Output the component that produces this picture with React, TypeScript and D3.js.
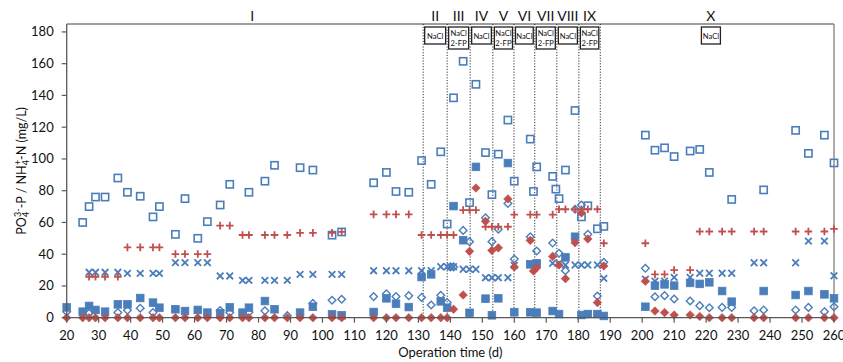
import React from 'react';
import * as d3 from 'd3';

const W = 843;
const H = 362;
const BLUE = '#4A7EBB';
const RED = '#C0504D';
const FONT = 'Lato, "Liberation Sans", sans-serif';

const xTickLabels = [20, 30, 40, 50, 60, 70, 80, 90, 100, 110, 120, 130, 140, 150, 160, 170, 180, 190, 200, 210, 220, 230, 240, 250, 260];
const yTickLabels = [0, 20, 40, 60, 80, 100, 120, 140, 160, 180];

// phase boundaries (day) and labels
const phaseBounds = [131.5, 139, 146.2, 153.3, 159.9, 166.4, 173.3, 180.2, 186.9];
const phaseNames = ['I', 'II', 'III', 'IV', 'V', 'VI', 'VII', 'VIII', 'IX', 'X'];
const phaseTreat = ['', 'NaCl', 'NaCl|2-FP', 'NaCl', 'NaCl|2-FP', 'NaCl', 'NaCl|2-FP', 'NaCl', 'NaCl|2-FP', 'NaCl'];
const phaseLabelDayI = 78;
const phaseLabelDayX = 221.5;

// [day, mg/L]
const openSquares: [number, number][] = [
  [25, 60], [27, 70], [29, 76], [32, 76], [36, 88], [39, 79], [43, 76.5], [47, 63.5], [49, 70], [54, 52.5],
  [57, 75], [61, 50], [64, 60.5], [68, 71], [71, 84], [77, 79], [82, 86], [85, 96], [93, 94.5], [97, 93],
  [103, 52], [106, 54], [116, 85], [120, 91.5], [123, 79.5], [127, 79], [131, 99], [134, 84], [137, 104.5],
  [139, 59], [141, 138.5], [144, 161.5], [146, 72.5], [148, 147], [151, 104], [153, 77.5], [155, 103],
  [158, 124.5], [160, 86], [165, 112.5], [166, 79.5], [167, 95], [172, 89], [173, 81], [174, 75], [176, 93],
  [179, 130.5], [181, 63.5], [183, 70.5], [186, 56], [188, 57.5], [201, 115], [204, 105.5], [207, 107],
  [210, 101.5], [215, 105], [218, 106], [221, 91.5], [228, 74.5], [238, 80.5], [248, 118], [252, 103.5],
  [257, 115], [260, 97.5],
];

const filledSquares: [number, number][] = [
  [20, 6.5], [25, 3.8], [27, 7.4], [29, 4.9], [32, 3.8], [36, 8.4], [39, 8.4], [43, 12.4], [47, 9.5], [49, 6.3],
  [54, 5.3], [57, 4.2], [61, 4.9], [64, 3.2], [68, 2.8], [71, 6.5], [75, 3.2], [77, 6.3], [82, 10.5], [85, 5.3],
  [93, 3.2], [97, 6.9], [103, 2.1], [106, 1.5], [116, 3.6], [120, 12.2], [123, 8.8], [127, 6.7], [131, 25.6],
  [134, 27.3], [137, 10.3], [139, 6.3], [141, 70.3], [144, 48.8], [146, 3.1], [148, 95], [151, 12], [153, 1.5],
  [155, 12.2], [158, 97.4], [160, 3.4], [165, 33.6], [165, 3.4], [167, 34.3], [167, 3.2], [172, 4.2], [174, 2.3],
  [176, 38], [179, 51], [181, 1.7], [183, 2.3], [186, 2.3], [188, 1.1], [201, 6.9], [204, 20.2], [207, 21],
  [210, 20.2], [215, 21.9], [218, 21.3], [221, 22.3], [225, 16.8], [228, 10.1], [238, 16.8], [248, 14.3],
  [252, 16.8], [257, 14.7], [260, 12.2],
];

const openDiamonds: [number, number][] = [
  [20, 3.8], [27, 2.8], [36, 3.2], [39, 4.7], [43, 6], [47, 3.2], [68, 4.5], [71, 3.3], [77, 3.4], [82, 4.3],
  [89, 1.3], [97, 9], [103, 11], [106, 11.6], [116, 13.3], [120, 15.1], [123, 13.3], [127, 13.9], [131, 12.8],
  [134, 8], [137, 14.1], [139, 9.5], [140, 32], [141, 32], [144, 55], [146, 47.9], [151, 63], [153, 47.9],
  [155, 55.7], [158, 72], [160, 37], [165, 51], [167, 42], [172, 47], [174, 40.6], [176, 29.6], [179, 68.3],
  [181, 71], [183, 52.5], [186, 13.7], [188, 34.9], [201, 31.1], [204, 13.2], [207, 13.9], [210, 11.8],
  [215, 10.5], [218, 7.6], [221, 6.3], [225, 6.5], [228, 6.5], [235, 4.4], [238, 4.9], [248, 4.9], [252, 6.5],
  [257, 3.8], [260, 6.9],
];

const crosses: [number, number][] = [
  [27, 28.6], [29, 28.6], [32, 28.6], [36, 28.6], [39, 27.9], [43, 27.9], [47, 27.9], [49, 27.9], [54, 34.7],
  [57, 34.7], [61, 34.7], [64, 34.7], [68, 26.3], [71, 26.3], [75, 23.5], [77, 23.5], [82, 23.5], [85, 23.5],
  [89, 23.5], [93, 27.3], [97, 27.3], [103, 27.3], [106, 27.3], [116, 29.6], [120, 29.6], [123, 29.6], [127, 29.6],
  [131, 29.6], [134, 29.6], [137, 32.1], [139, 32.1], [140, 32.1], [141, 32.1], [144, 30.5], [146, 30.5],
  [148, 30.5], [151, 25.2], [153, 25.2], [155, 25.2], [158, 25.2], [160, 33], [165, 33.5], [167, 33.5],
  [172, 34.3], [174, 34.3], [176, 33.2], [179, 33.2], [181, 33.2], [183, 33.2], [186, 33.2], [188, 24.8],
  [201, 24.3], [204, 23], [207, 23], [210, 25.4], [215, 25.4], [218, 28], [221, 28], [225, 28], [228, 28],
  [235, 34.6], [238, 34.6], [248, 34.6], [252, 48.2], [257, 48.2], [260, 26.4],
];

const plusses: [number, number][] = [
  [27, 25.8], [29, 25.8], [32, 25.8], [36, 25.8], [39, 44.3], [43, 44.3], [47, 44.3], [49, 44.3], [54, 40.1],
  [57, 40.1], [61, 40.1], [64, 40.1], [68, 58], [71, 58], [75, 52.1], [77, 52.1], [82, 52.1], [85, 52.1],
  [89, 52.1], [93, 53.4], [97, 53.4], [103, 53.4], [106, 54], [116, 65.1], [120, 65.1], [123, 65.1], [127, 65.1],
  [131, 52.1], [134, 52.1], [137, 52.1], [139, 52.1], [141, 52.1], [144, 67.8], [146, 67.8], [148, 67.8],
  [151, 57.3], [153, 57.3], [155, 57.3], [158, 57.3], [160, 64.9], [165, 64.9], [167, 64.9], [172, 64.9],
  [174, 68.3], [176, 68.3], [179, 68.3], [181, 68.3], [183, 68.3], [186, 68.3], [188, 46.9], [201, 46.9],
  [204, 27.3], [207, 27.3], [210, 30], [215, 30], [218, 54.3], [221, 54.3], [225, 54.3], [228, 54.3],
  [235, 54.3], [238, 54.3], [248, 54.3], [252, 54.3], [257, 54.3], [260, 55.9],
];

const redDiamonds: [number, number][] = [
  [20, 0], [25, 0], [27, 0], [29, 0], [32, 0], [36, 0], [39, 0], [43, 0], [47, 0], [49, 0], [54, 0], [57, 0],
  [61, 0], [64, 0], [68, 0], [71, 0], [75, 0], [77, 0], [82, 0], [85, 0], [89, 0], [93, 0], [97, 0], [103, 0],
  [106, 0], [116, 0], [120, 0], [123, 0], [127, 0], [131, 0], [134, 0], [137, 0], [139, 0], [141, 5.3],
  [144, 14.3], [146, 41.8], [148, 81.7], [151, 60.7], [153, 42.4], [155, 44], [158, 74.8], [160, 32],
  [165, 48.7], [166, 29.4], [167, 31.5], [172, 38.6], [174, 33.2], [176, 24.6], [179, 47.3], [181, 66],
  [183, 49.6], [186, 9.5], [188, 32.6], [201, 23], [204, 4.2], [207, 3.2], [210, 1.7], [215, 1.7], [218, 0.8],
  [221, 0], [225, 0], [228, 0], [235, 0], [238, 0], [248, 0], [252, 0], [257, 0], [260, 0],
];

const left = 66.7;
const right = 834;
const top = 24;
const bottom = 317.7;

const x = d3.scaleLinear().domain([20, 260]).range([left, right]);
const y = d3.scaleLinear().domain([0, 185]).range([bottom, top]);

const App = () => {
  const diamond = (cx: number, cy: number, r: number) =>
    `M${cx},${cy - r}L${cx + r},${cy}L${cx},${cy + r}L${cx - r},${cy}Z`;

  const treatBox = (key: string, cx: number, w: number, label: string) => {
    const lines = label.split('|');
    const h = lines.length > 1 ? 22 : 17;
    return (
      <g key={key}>
        <rect x={cx - w / 2} y={27} width={w} height={h} fill="#fff" stroke="#222" strokeWidth={1.3} />
        {lines.map((t, i) => (
          <text key={i} x={cx} y={lines.length > 1 ? 36 + i * 10 : 38.5} textAnchor="middle"
            fontSize={7.6} fontFamily={FONT} fill="#111">{t}</text>
        ))}
      </g>
    );
  };

  const phaseEdges = [20, ...phaseBounds, 260];

  return (
    <svg width={W} height={H} style={{ position: 'absolute', left: 0, top: 0, background: '#fff' }}>
      {/* frame */}
      <line x1={left} x2={right} y1={top} y2={top} stroke="#7f7f7f" strokeWidth={1.3} />
      <line x1={right} x2={right} y1={top} y2={bottom} stroke="#7f7f7f" strokeWidth={1.3} />

      {/* phase boundaries */}
      {phaseBounds.map((d, i) => (
        <line key={'pb' + i} x1={x(d)} x2={x(d)} y1={top} y2={bottom} stroke="#333"
          strokeWidth={1} strokeDasharray="1.2,1.6" />
      ))}

      {/* phase labels */}
      {phaseNames.map((n, i) => {
        let cx = (x(phaseEdges[i]) + x(phaseEdges[i + 1])) / 2;
        if (i === 0) cx = x(phaseLabelDayI);
        if (i === phaseNames.length - 1) cx = x(phaseLabelDayX);
        return (
          <text key={'pn' + i} x={cx} y={21} textAnchor="middle" fontSize={14} fontFamily={FONT} fill="#111">{n}</text>
        );
      })}

      {/* treatment boxes */}
      {phaseTreat.map((t, i) => {
        if (!t) return null;
        if (i === phaseTreat.length - 1) return treatBox('tb' + i, x(phaseLabelDayX), 19, t);
        const x0 = x(phaseEdges[i]);
        const x1 = x(phaseEdges[i + 1]);
        return treatBox('tb' + i, (x0 + x1) / 2, x1 - x0 - 3, t);
      })}

      {/* markers */}
      {openSquares.map(([d, v], i) => (
        <rect key={'os' + i} x={x(d) - 3.6} y={y(v) - 3.6} width={7.2} height={7.2} fill="none" stroke={BLUE} strokeWidth={1.6} />
      ))}
      {crosses.map(([d, v], i) => (
        <path key={'cr' + i} d={`M${x(d) - 3.3},${y(v) - 3.3}L${x(d) + 3.3},${y(v) + 3.3}M${x(d) - 3.3},${y(v) + 3.3}L${x(d) + 3.3},${y(v) - 3.3}`}
          stroke={BLUE} strokeWidth={1.8} fill="none" />
      ))}
      {openDiamonds.map(([d, v], i) => (
        <path key={'od' + i} d={diamond(x(d), y(v), 3.8)} fill="none" stroke={BLUE} strokeWidth={1.4} />
      ))}
      {filledSquares.map(([d, v], i) => (
        <rect key={'fs' + i} x={x(d) - 3.8} y={y(v) - 3.8} width={7.6} height={7.6} fill={BLUE} stroke={BLUE} strokeWidth={0.8} />
      ))}
      {plusses.map(([d, v], i) => (
        <path key={'pl' + i} d={`M${x(d) - 3.8},${y(v)}L${x(d) + 3.8},${y(v)}M${x(d)},${y(v) - 3.8}L${x(d)},${y(v) + 3.8}`}
          stroke={RED} strokeWidth={1.8} fill="none" />
      ))}
      {redDiamonds.map(([d, v], i) => (
        <path key={'rd' + i} d={diamond(x(d), y(v), 4.3)} fill={RED} stroke={RED} strokeWidth={0.6} />
      ))}

      {/* axes */}
      <line x1={left} x2={left} y1={top} y2={bottom} stroke="#595959" strokeWidth={1.3} />
      <line x1={left} x2={right} y1={bottom} y2={bottom} stroke="#595959" strokeWidth={1.3} />
      {yTickLabels.map((t) => (
        <g key={'yt' + t}>
          <line x1={left - 5} x2={left} y1={y(t)} y2={y(t)} stroke="#595959" strokeWidth={1.2} />
          <text x={left - 13} y={y(t) + 4.5} textAnchor="end" fontSize={13} fontFamily={FONT} fill="#111">{t}</text>
        </g>
      ))}
      {xTickLabels.map((t) => (
        <g key={'xt' + t}>
          <line x1={x(t)} x2={x(t)} y1={bottom} y2={bottom + 5} stroke="#595959" strokeWidth={1.2} />
          <text x={x(t)} y={bottom + 22} textAnchor="middle" fontSize={13} fontFamily={FONT} fill="#111">{t}</text>
        </g>
      ))}

      <text x={(left + right) / 2} y={357} textAnchor="middle" fontSize={13} fontFamily={FONT} fill="#111">Operation time (d)</text>

      <text transform={`translate(26,${(top + bottom) / 2}) rotate(-90)`} textAnchor="middle" fontSize={12.5} fontFamily={FONT} fill="#111">
        PO<tspan fontSize={9} dy={3}>4</tspan><tspan fontSize={9} dx={-5} dy={-8}>3-</tspan>
        <tspan dy={5}>-P / NH</tspan><tspan fontSize={9} dy={3}>4</tspan><tspan fontSize={9} dx={-5} dy={-8}>+</tspan>
        <tspan dy={5}>-N (mg/L)</tspan>
      </text>
    </svg>
  );
};

export default App;
